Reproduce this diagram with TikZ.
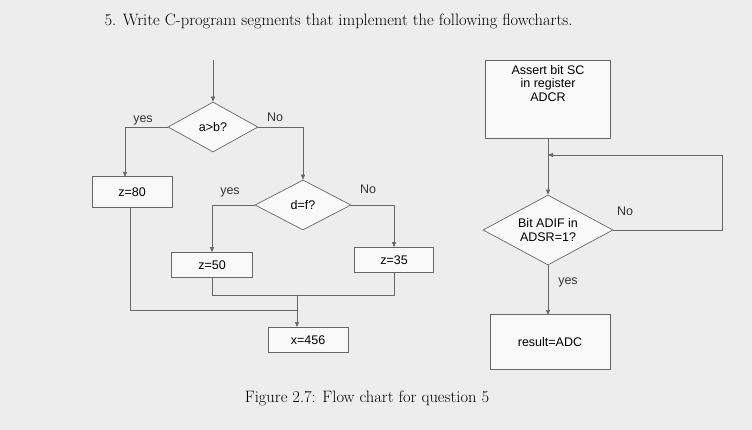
\documentclass[tikz,border=0pt]{standalone}
\usepackage{fontspec}
\newfontfamily\mysf{Liberation Sans}
\usetikzlibrary{shapes.geometric,arrows.meta}
\begin{document}
\begin{tikzpicture}[x=1pt,y=-1pt,
 line/.style={draw=black!60,line width=0.7pt},
 arr/.style={line,-{Triangle[length=5pt,width=4pt]}},
 box/.style={line,fill=white!95!gray,font=\mysf\fontsize{12.5}{13.5}\selectfont,inner sep=0pt,align=center},
 dia/.style={line,diamond,aspect=1.8,fill=white!95!gray,font=\mysf\fontsize{12.5}{13.5}\selectfont,inner sep=0pt,align=center},
 lbl/.style={font=\mysf\fontsize{12.5}{13.5}\selectfont,text=black!80}]
\fill[gray!14] (0,0) rectangle (752,430);
\node[anchor=west,font=\fontsize{16.5}{18}\selectfont] (title) at (101,21) {5. Write C-program segments that implement the following flowcharts.};
\coordinate (in) at (213,60);
\node[dia,minimum width=90pt,minimum height=50pt] (ab) at (213,127) {a>b?};
\node[box,minimum width=80pt,minimum height=31pt] (z80) at (132,192) {z=80};
\node[dia,minimum width=96pt,minimum height=50pt] (df) at (303,205) {d=f?};
\node[box,minimum width=81pt,minimum height=25pt] (z50) at (212,265) {z=50};
\node[box,minimum width=79pt,minimum height=25pt] (z35) at (394,260) {z=35};
\node[box,minimum width=80pt,minimum height=25pt] (x) at (308,340) {x=456};
\draw[arr] (in) -- (ab.north);
\draw[arr] (ab.west) -| (125,177);
\draw[arr] (ab.east) -| (df.north);
\draw[arr] (df.west) -| (z50.north);
\draw[arr] (df.east) -| (z35.north);
\node[lbl] (y1) at (143,120) {yes};
\node[lbl] (n1) at (275,117) {No};
\node[lbl] (y2) at (230,192) {yes};
\node[lbl] (n2) at (368,189) {No};
\coordinate (m) at (297,295);
\draw[line] (z50.south) -- (212,295) -- (394,295) -- (z35.south);
\draw[line] (130,208) -- (130,310) -- (297,310);
\draw[arr] (m) -- (297,327);
\node[box,minimum width=125pt,minimum height=78pt] (sc) at (548,99) {Assert bit SC\\in register\\ADCR\\[18pt]};
\node[dia,minimum width=130pt,minimum height=70pt] (adif) at (548,230) {Bit ADIF in\\ADSR=1?};
\node[box,minimum width=120pt,minimum height=55pt] (res) at (550,342) {result=ADC};
\draw[arr] (sc.south) -- (adif.north);
\draw[line] (adif.east) -- (722,230) -- (722,155);
\draw[arr] (722,155) -- (548,155);
\draw[arr] (adif.south) -- (548,315);
\node[lbl] (n3) at (625,211) {No};
\node[lbl] (y3) at (568,282) {yes};
\node[font=\fontsize{16.5}{18}\selectfont] (cap) at (367,398) {Figure 2.7: Flow chart for question 5};
\end{tikzpicture}
\end{document}
